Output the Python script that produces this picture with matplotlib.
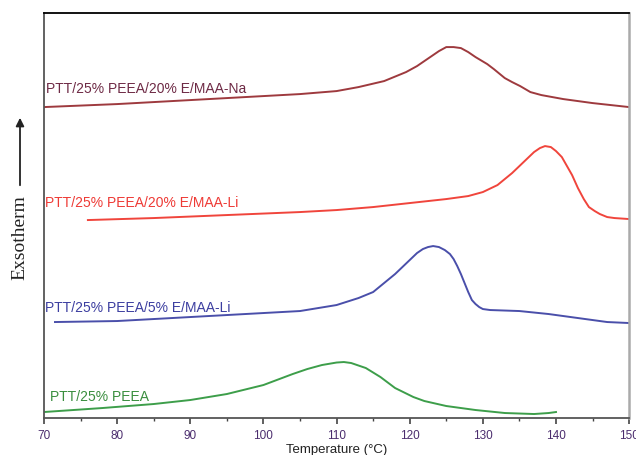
import matplotlib.pyplot as plt
import matplotlib as mpl

mpl.rcParams['font.family'] = ['Liberation Sans', 'DejaVu Sans']

# DSC cooling curves, arbitrary exotherm units (offset per curve)
t_na = [70, 80, 90, 100, 105, 110, 113, 116.5, 119.5, 121, 122, 123, 124, 125, 126, 127, 128, 129,
        130.6, 131.5, 133, 134, 135.1, 136.5, 138, 141, 145, 150]
y_na = [311, 314, 318, 322, 324, 327, 331, 337, 346, 352, 357, 362, 367, 371, 371, 370, 366, 361,
        354, 349, 340, 336, 332, 326, 323, 319, 315, 311]

t_li20 = [76, 85, 95, 105, 110, 115, 120, 125, 128, 130, 132, 133, 134, 135, 136, 137, 137.8, 138.5,
          139.3, 140, 140.8, 141.5, 142.2, 143, 143.8, 144.5, 145.3, 146, 147, 148, 150]
y_li20 = [198, 200, 203, 206, 208, 211, 215, 219, 222, 226, 233, 239, 245, 252, 259, 266, 270, 272,
          271, 267, 261, 252, 243, 230, 219, 211, 207, 204, 201, 200, 199]

t_li5 = [71.5, 80, 90, 100, 105, 110, 113, 115, 116.5, 118, 119, 120, 121, 121.8, 122.5, 123.2, 124,
         124.8, 125.5, 126, 126.5, 127, 127.5, 128, 128.5, 129, 129.5, 130, 131, 135, 139, 143, 147, 150]
y_li5 = [96, 97, 101, 105, 107, 113, 120, 126, 135, 144, 151, 158, 165, 169, 171, 172, 171,
         168, 164, 159, 152, 144, 135, 126, 118, 114, 111, 109, 108, 107, 104, 100, 96, 95]

t_peea = [70, 78, 85, 90, 95, 100, 104, 106, 108, 110, 111, 112, 114, 116, 118, 120.5, 122, 125,
          129, 133, 137, 139, 140]
y_peea = [6, 10, 14, 18, 24, 33, 44, 49, 53, 55.5, 56, 55, 50, 41, 30, 21, 17, 12,
          8, 5, 4, 5, 6]

labels = ['PTT/25% PEEA/20% E/MAA-Na', 'PTT/25% PEEA/20% E/MAA-Li',
          'PTT/25% PEEA/5% E/MAA-Li', 'PTT/25% PEEA']
colors = ['#9e3a3e', '#f0453c', '#4a4faa', '#3d9e4a']
label_colors = ['#6e2a45', '#ee3a35', '#3c3ea0', '#3a8e3e']
label_pos = [(70.3, 330), (70.2, 216), (70.2, 111), (70.8, 22)]

fig = plt.figure(figsize=(6.36, 4.56), dpi=100)
ax = fig.add_axes([0.0692, 0.0811, 0.92, 0.888])

series = [(t_na, y_na), (t_li20, y_li20), (t_li5, y_li5), (t_peea, y_peea)]
for (t, y), c, lab, lc, pos in zip(series, colors, labels, label_colors, label_pos):
    ax.plot(t, y, color=c, lw=1.4, solid_joinstyle='round')
    ax.text(pos[0], pos[1], lab, color=lc, fontsize=10, va='center', ha='left')

ax.set_xlim(70, 150)
ax.set_ylim(0, 405)
ax.set_yticks([])
ax.set_xticks(range(70, 151, 10))
ax.set_xticks(range(75, 150, 10), minor=True)
ax.tick_params(axis='x', which='major', length=4, width=1.2, color='#444444',
               labelsize=8.5, labelcolor='#4b2d6e', pad=4)
ax.tick_params(axis='x', which='minor', length=2.5, width=1, color='#444444')

ax.spines['top'].set_color('black')
ax.spines['top'].set_linewidth(1.3)
ax.spines['left'].set_color('#555555')
ax.spines['left'].set_linewidth(1.3)
ax.spines['bottom'].set_color('#555555')
ax.spines['bottom'].set_linewidth(1.3)
ax.spines['right'].set_color('#aaaaaa')
ax.spines['right'].set_linewidth(1.8)

ax.set_xlabel('Temperature (\u00b0C)', fontsize=9.5, color='#222222', labelpad=1)

# y label drawn as text plus arrow in figure pixels
fig.text(20 / 636, 1 - 238 / 456, 'Exsotherm', rotation=90, ha='center', va='center',
         fontsize=14, family='Liberation Serif', color='#222222')
ax.annotate('', xy=(20 / 636, 1 - 116 / 456), xycoords='figure fraction',
            xytext=(20 / 636, 1 - 189 / 456), textcoords='figure fraction',
            arrowprops=dict(arrowstyle='-|>', color='#222222', lw=1.3, mutation_scale=12),
            annotation_clip=False)

fig.savefig('out.png', dpi=100)
